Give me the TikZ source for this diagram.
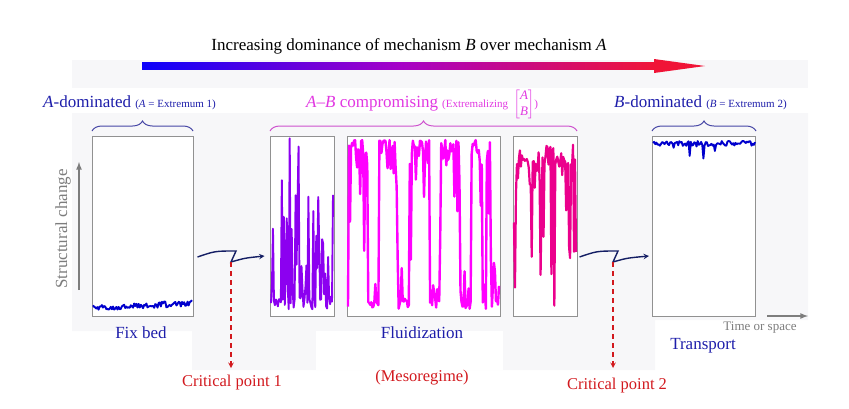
\documentclass[tikz,border=0pt]{standalone}
\usepackage{fontspec}
\setmainfont{Liberation Serif}
\usepackage{amsmath}
\usetikzlibrary{arrows,calc,decorations.pathreplacing}

\definecolor{bggray}{RGB}{247,247,249}
\definecolor{boxgray}{RGB}{145,145,145}
\definecolor{axgray}{RGB}{125,125,125}
\definecolor{cblue}{RGB}{10,0,250}
\definecolor{cpurple}{RGB}{165,0,200}
\definecolor{cred}{RGB}{240,20,55}
\definecolor{lblblue}{RGB}{30,30,170}
\definecolor{lblmag}{RGB}{225,55,225}
\definecolor{crimson}{RGB}{210,25,30}
\definecolor{navy}{RGB}{20,30,100}
\definecolor{brA}{RGB}{70,70,165}
\definecolor{brAB}{RGB}{205,80,205}
\definecolor{trblue}{RGB}{0,0,205}
\definecolor{trpurple}{RGB}{140,0,240}
\definecolor{trmag}{RGB}{255,0,255}
\definecolor{trpink}{RGB}{235,0,140}

\tikzset{
	box/.style={draw=boxgray, fill=white, line width=1pt, minimum height=180pt, inner sep=0pt},
	trace/.style={line width=1.9pt, line join=round},
	brc/.style={decorate, decoration={brace, amplitude=10pt}, line width=1pt},
	zig/.style={navy, line width=1.4pt, -stealth},
	crit/.style={crimson, line width=1.4pt, dashed, dash pattern=on 5pt off 4pt, -stealth},
	axis/.style={axgray, line width=1.6pt, -latex},
	big/.style={font=\fontsize{17}{20}\selectfont, inner sep=0pt},
	bigblue/.style={big, text=lblblue},
	bigred/.style={big, text=crimson, font=\fontsize{16.5}{20}\selectfont}
}
\newcommand{\smallpar}{\fontsize{11}{13}\selectfont}

\begin{document}
\begin{tikzpicture}[x=1pt,y=-1pt]
	\useasboundingbox (0,0) rectangle (849,408);
	\fill[bggray] (72,60) rectangle (808,88);
	\fill[bggray] (72,113) -- (808,113) -- (808,320) -- (655,320) -- (655,370) -- (192,370) -- (192,331) -- (72,331) -- cycle;
	\fill[white] (316,331) rectangle (503,370);

	\node[big] (title) at (409,46) {Increasing dominance of mechanism \textit{B} over mechanism \textit{A}};
	\shade[left color=cblue, right color=cred, middle color=cpurple] (142,62.5) rectangle (655,69.5);
	\fill[cred] (654,59) -- (705,66) -- (654,73) -- cycle;

	\node[bigblue, anchor=base west] (lblA) at (43,107) {\textit{A}-dominated {\smallpar(\textit{A} = Extremum 1)}};
	\node[big, text=lblmag, anchor=base west] (lblAB) at (306,107) {\textit{A}--\textit{B} compromising {\smallpar(Extremalizing\ \ {\fontsize{13}{15}\selectfont$\left[\begin{array}{@{}c@{}}\textit{A}\\[1pt]\textit{B}\end{array}\right]$})}};
	\node[bigblue, anchor=base west] (lblB) at (614,107) {\textit{B}-dominated {\smallpar(\textit{B} = Extremum 2)}};

	\draw[brc, brA] (92,131) -- (193,131);
	\draw[brc, brAB] (270,131) -- (577,131);
	\draw[brc, brA] (652,131) -- (756,131);

	\node[box, minimum width=101pt] (box1) at (142.5,226) {};
	\node[box, minimum width=64pt] (box2) at (302,226) {};
	\node[box, minimum width=153pt] (box3) at (423.5,226) {};
	\node[box, minimum width=64pt] (box4) at (545,226) {};
	\node[box, minimum width=103pt] (box5) at (704,226) {};

	\begin{scope}
		\clip (box1.south west) rectangle (box1.north east);
		\pgfmathsetseed{11}
		\draw[trace, trblue] plot[domain=93:192, samples=90] (\x,{311-0.05*(\x-93)-6*rnd});
	\end{scope}
	\begin{scope}
		\clip (box2.south west) rectangle (box2.north east);
		\pgfmathsetseed{2024}
		\draw[trace, trpurple] plot[domain=271:333, samples=64] (\x,{310-10*rnd-170*pow(rnd,4)});
	\end{scope}
	\begin{scope}
		\clip (box3.south west) rectangle (box3.north east);
		\pgfmathsetseed{5}
		\draw[trace, trmag, line width=2.4pt] plot[domain=348:499, samples=150] (\x,{(sin(12*(\x-348)-40)+0.7*sin(23*(\x-348)+60) > 0) ? 140+30*pow(rnd,2)+120*pow(rnd,10) : 309-10*rnd-60*pow(rnd,10)});
	\end{scope}
	\begin{scope}
		\clip (box4.south west) rectangle (box4.north east);
		\pgfmathsetseed{77}
		\draw[trace, trpink, line width=2.2pt] plot[domain=514:576, samples=64] (\x,{142+25*rnd+160*pow(rnd,5)});
	\end{scope}
	\begin{scope}
		\clip (box5.south west) rectangle (box5.north east);
		\pgfmathsetseed{11}
		\draw[trace, trblue] plot[domain=653:755, samples=90] (\x,{141+5*rnd+18*pow(rnd,12)});
	\end{scope}

	\draw[axis] (79,290) -- (79,162);
	\node[big, text=axgray, rotate=90] (ylab) at (63,229) {Structural change};
	\draw[axis] (767,316) -- (808,316);
	\node[inner sep=0pt, text=axgray, font=\fontsize{13}{15}\selectfont] (xlab) at (760,328) {Time or space};

	\coordinate (z1a) at (236,251);
	\coordinate (z1b) at (231,262);
	\coordinate (c1) at (231,368);
	\coordinate (z2a) at (618,251);
	\coordinate (z2b) at (613,262);
	\coordinate (c2) at (613,368);
	\draw[zig] ([shift={(4,31)}]box1.east) .. controls (215,251) .. (z1a) -- (z1b) .. controls (245,258) .. ([shift={(-5,30)}]box2.west);
	\draw[zig] ([shift={(2,31)}]box4.east) .. controls (597,251) .. (z2a) -- (z2b) .. controls (627,258) .. ([shift={(-3,30)}]box5.west);
	\draw[crit] (z1b) -- (c1);
	\draw[crit] (z2b) -- (c2);

	\node[bigblue] (fixbed) at (141,333) {Fix bed};
	\node[bigblue] (fluid) at (422,333) {Fluidization};
	\node[bigblue] (transport) at (703,346) {Transport};
	\node[bigred] (crit1) at (232,383) {Critical point 1};
	\node[bigred] (meso) at (422,378) {(Mesoregime)};
	\node[bigred] (crit2) at (617,386) {Critical point 2};
\end{tikzpicture}
\end{document}
